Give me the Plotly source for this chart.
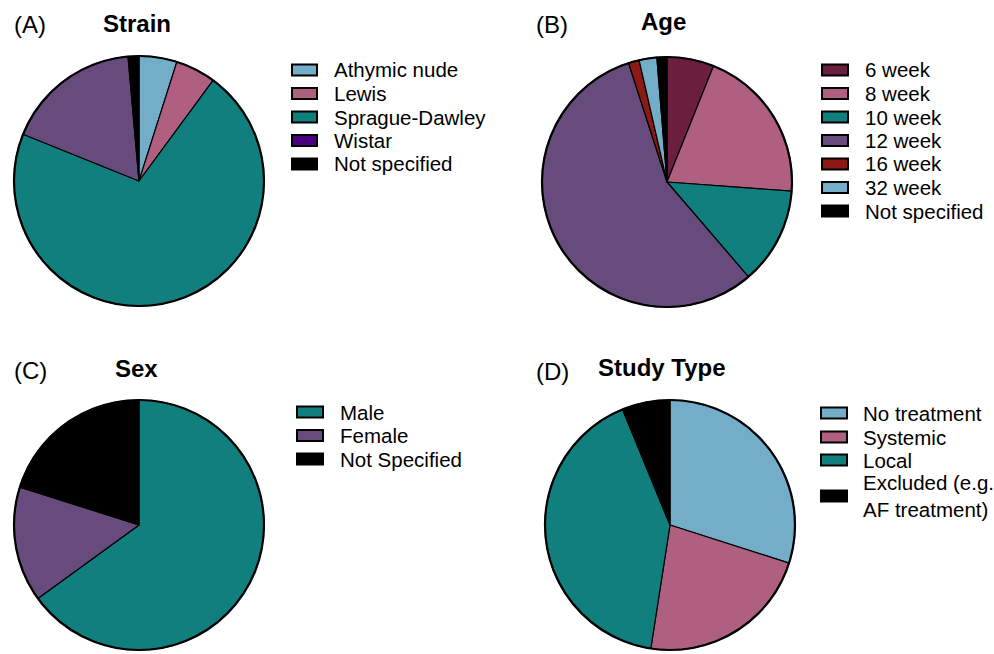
import plotly.graph_objects as go

W, H = 994, 654

# ---------------- data ----------------
strain_labels = ["Athymic nude", "Lewis", "Sprague-Dawley", "Wistar", "Not specified"]
strain_values = [4.9, 5.2, 71.0, 17.5, 1.4]
strain_slice_colors = ["#73ADC8", "#AF6080", "#107F7E", "#674B7C", "#000000"]
strain_legend_colors = ["#73ADC8", "#AF6080", "#107F7E", "#4B0082", "#000000"]

age_labels = ["6 week", "8 week", "10 week", "12 week", "16 week", "32 week", "Not specified"]
age_values = [6.1, 20.2, 12.6, 56.6, 1.4, 2.3, 1.3]
age_colors = ["#6C1E3F", "#AF6080", "#107F7E", "#674B7C", "#8C1A12", "#73ADC8", "#000000"]

sex_labels = ["Male", "Female", "Not Specified"]
sex_values = [65.0, 14.9, 20.1]
sex_colors = ["#107F7E", "#674B7C", "#000000"]

study_labels = ["No treatment", "Systemic", "Local", "Excluded (e.g.<br>AF treatment)"]
study_values = [29.9, 22.5, 41.3, 6.2]
study_colors = ["#73ADC8", "#AF6080", "#107F7E", "#000000"]

FONT = "Arial, Liberation Sans, sans-serif"


def px_x(x):
    return x / W


def px_y(y):
    return 1 - y / H


panels = [
    dict(tag="(A)", title="Strain", labels=strain_labels, values=strain_values,
         colors=strain_slice_colors, lcolors=strain_legend_colors,
         c=(139, 181), r=125, tag_xy=(12, 24), title_xy=(137, 23),
         rect_x=(292, 317), text_x=332, rows=[70, 93.5, 117, 140.5, 164]),
    dict(tag="(B)", title="Age", labels=age_labels, values=age_values,
         colors=age_colors, lcolors=age_colors,
         c=(667, 182), r=125, tag_xy=(534, 24), title_xy=(663, 22),
         rect_x=(822, 848), text_x=863, rows=[70, 93.5, 117, 140.5, 164, 187.5, 211]),
    dict(tag="(C)", title="Sex", labels=sex_labels, values=sex_values,
         colors=sex_colors, lcolors=sex_colors,
         c=(139, 525), r=125, tag_xy=(12, 370), title_xy=(136, 369),
         rect_x=(297, 323), text_x=338, rows=[412, 435.5, 459]),
    dict(tag="(D)", title="Study Type", labels=study_labels, values=study_values,
         colors=study_colors, lcolors=study_colors,
         c=(670, 525), r=125, tag_xy=(534, 371), title_xy=(662, 367),
         rect_x=(821, 847), text_x=861, rows=[413, 437, 460, 496]),
]

fig = go.Figure()
shapes = []
annotations = []

for p in panels:
    cx, cy = p["c"]
    r = p["r"]
    fig.add_trace(go.Pie(
        labels=p["labels"], values=p["values"],
        marker=dict(colors=p["colors"], line=dict(color="black", width=1.2)),
        sort=False, direction="clockwise", rotation=0,
        textinfo="none", hoverinfo="label+percent", showlegend=False,
        domain=dict(x=[px_x(cx - r), px_x(cx + r)], y=[px_y(cy + r), px_y(cy - r)]),
    ))
    shapes.append(dict(type="circle", xref="paper", yref="paper",
                       x0=px_x(cx - r), x1=px_x(cx + r), y0=px_y(cy + r), y1=px_y(cy - r),
                       line=dict(color="black", width=2.2), fillcolor="rgba(0,0,0,0)"))
    annotations.append(dict(text=p["tag"], x=px_x(p["tag_xy"][0]), y=px_y(p["tag_xy"][1]),
                            xref="paper", yref="paper", xanchor="left", yanchor="middle",
                            showarrow=False, font=dict(family=FONT, size=24, color="black")))
    annotations.append(dict(text="<b>" + p["title"] + "</b>", x=px_x(p["title_xy"][0]),
                            y=px_y(p["title_xy"][1]), xref="paper", yref="paper",
                            xanchor="center", yanchor="middle", showarrow=False,
                            font=dict(family=FONT, size=24, color="black")))
    x0, x1 = p["rect_x"]
    for lab, col, ry in zip(p["labels"], p["lcolors"], p["rows"]):
        shapes.append(dict(type="rect", xref="paper", yref="paper",
                           x0=px_x(x0), x1=px_x(x1), y0=px_y(ry + 5.5), y1=px_y(ry - 5.5),
                           fillcolor=col, line=dict(color="black", width=2)))
        annotations.append(dict(text=lab, x=px_x(p["text_x"]), y=px_y(ry),
                                xref="paper", yref="paper", xanchor="left", yanchor="middle",
                                align="left", showarrow=False,
                                font=dict(family=FONT, size=20.5, color="black")))

fig.update_layout(
    width=W, height=H,
    margin=dict(l=0, r=0, t=0, b=0),
    paper_bgcolor="white", plot_bgcolor="white",
    shapes=shapes, annotations=annotations,
    font=dict(family=FONT, color="black"),
)

fig.write_html("out.html", config={"displayModeBar": False},
               post_script="document.body.style.margin='0px';document.body.style.overflow='hidden';")
